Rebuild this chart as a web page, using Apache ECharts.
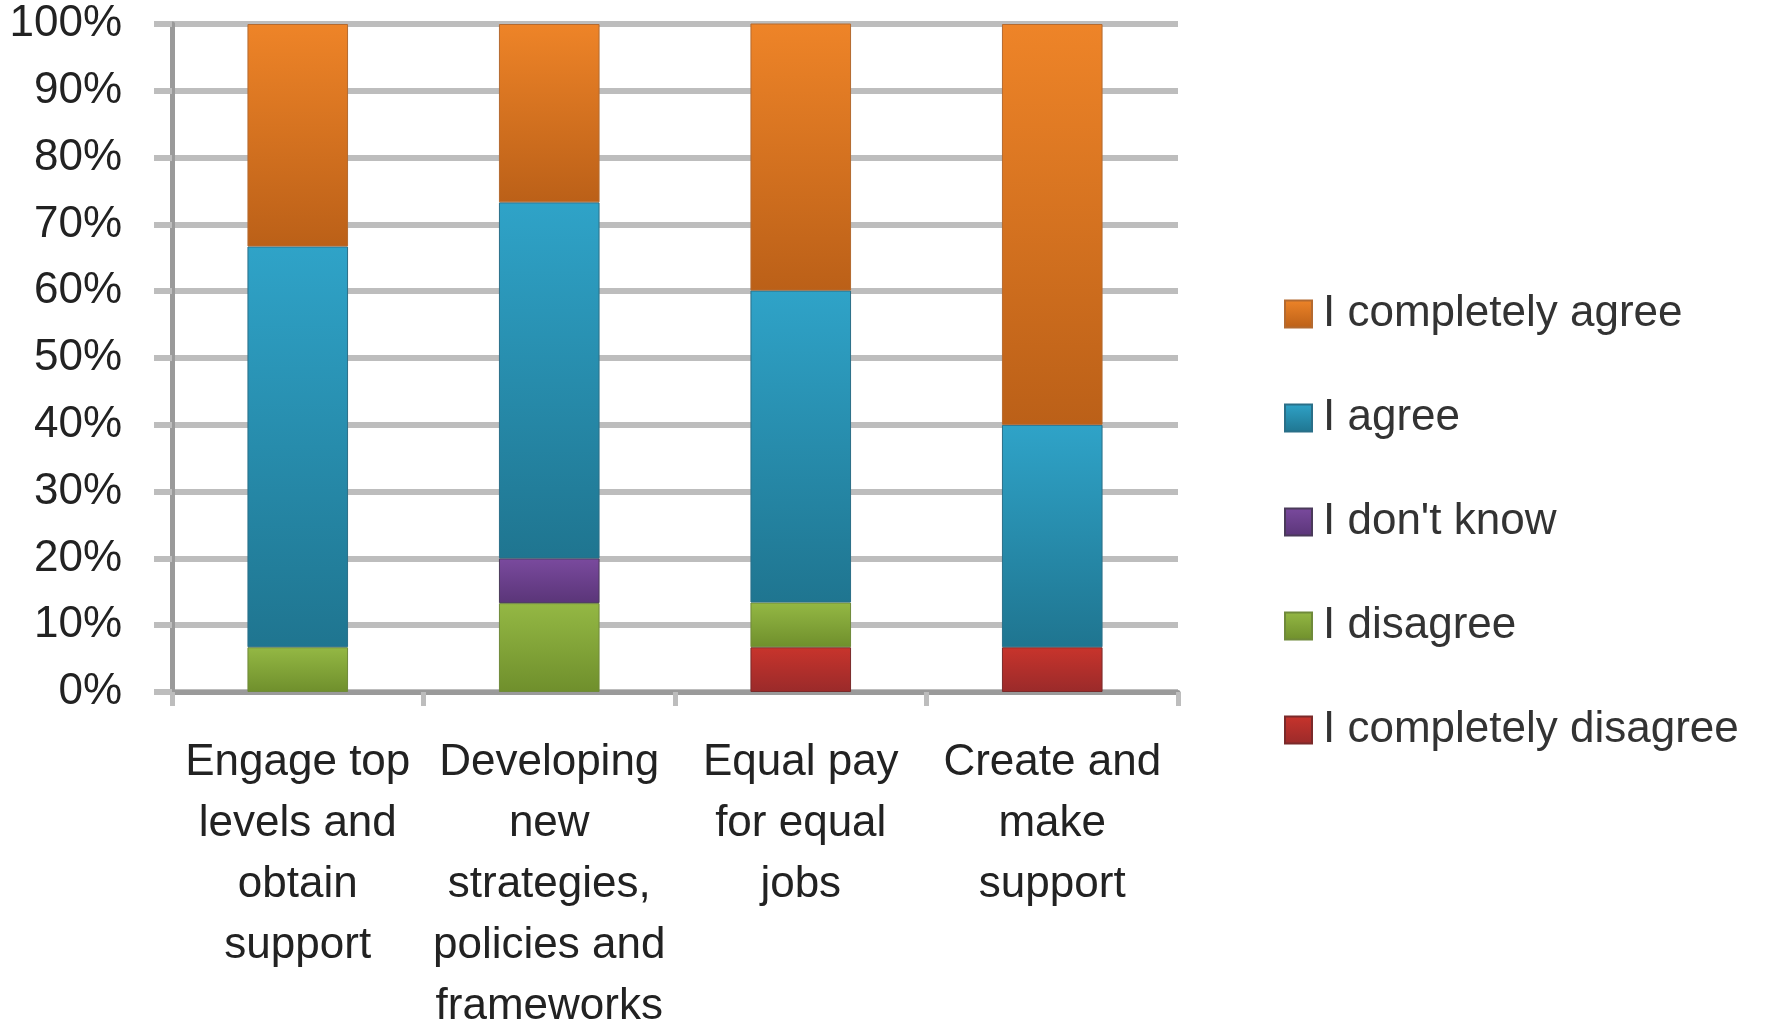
<!DOCTYPE html>
<html>
<head>
<meta charset="utf-8">
<script src="https://cdn.jsdelivr.net/npm/echarts@6/dist/echarts.min.js"></script>
<style>
  html, body { margin: 0; padding: 0; background: #fff; }
  #main { width: 1779px; height: 1027px; }
</style>
</head>
<body>
<div id="main"></div>
<script>
// categories and survey shares (percent)
var categories = [
  'Engage top\nlevels and\nobtain\nsupport',
  'Developing\nnew\nstrategies,\npolicies and\nframeworks',
  'Equal pay\nfor equal\njobs',
  'Create and\nmake\nsupport'
]
var completelyDisagree = [0, 0, 6.7, 6.7]
var disagree = [6.7, 13.3, 6.7, 0]
var dontKnow = [0, 6.7, 0, 0]
var agree = [60, 53.3, 46.7, 33.3]
var completelyAgree = [33.3, 26.7, 40, 60]

var yTicks = [0, 10, 20, 30, 40, 50, 60, 70, 80, 90, 100]

// vertical gradient like the old office bars
function grad (top, bottom) {
  return new echarts.graphic.LinearGradient(0, 0, 0, 1, [
    { offset: 0, color: top },
    { offset: 1, color: bottom }
  ])
}

function bar (name, data, top, bottom, border) {
  return {
    name: name,
    type: 'bar',
    stack: 'all',
    barWidth: '40%',
    // empty segments are left out so no border line shows
    data: data.map(function (v) { return v === 0 ? null : v }),
    itemStyle: {
      color: grad(top, bottom),
      borderColor: border,
      borderWidth: 1
    }
  }
}

var font = 'Liberation Sans'
var myChart = echarts.init(document.getElementById('main'))
myChart.setOption({
  animation: false,
  textStyle: { fontFamily: font },
  grid: { left: 172, right: 601, top: 24, bottom: 335, outerBoundsMode: 'none', containLabel: false },
  legend: {
    orient: 'vertical',
    left: 1279,
    top: 284,
    itemWidth: 27,
    itemHeight: 27,
    itemGap: 54,
    icon: 'rect',
    data: ['I completely agree', 'I agree', "I don't know", 'I disagree', 'I completely disagree'],
    textStyle: { fontSize: 44, color: '#333', lineHeight: 50, padding: [0, 0, 0, 6], fontFamily: font }
  },
  xAxis: {
    type: 'category',
    data: categories,
    axisLine: { lineStyle: { color: '#9a9a9a', width: 5 } },
    axisTick: { show: true, length: 14, lineStyle: { color: '#bdbdbd', width: 5 } },
    axisLabel: { fontSize: 44, lineHeight: 61, color: '#222', margin: 40, interval: 0, fontFamily: font }
  },
  yAxis: {
    type: 'value',
    min: 0,
    max: 100,
    interval: 10,
    axisLine: { show: true, lineStyle: { color: '#9a9a9a', width: 5 } },
    axisTick: { show: true, length: 18, lineStyle: { color: '#bdbdbd', width: 6 } },
    splitLine: { lineStyle: { color: '#bdbdbd', width: 6 } },
    axisLabel: {
      fontSize: 44,
      color: '#222',
      margin: 50,
      fontFamily: font,
      formatter: function (v) { return yTicks.indexOf(v) >= 0 ? v + '%' : '' }
    }
  },
  series: [
    bar('I completely disagree', completelyDisagree, '#c8342c', '#9a2a2a', '#7a2a2a'),
    bar('I disagree', disagree, '#94b844', '#6f8f2c', '#6f8a3a'),
    bar("I don't know", dontKnow, '#7a4a9e', '#5a3578', '#4a3a5a'),
    bar('I agree', agree, '#2fa3c8', '#1f7590', '#2a6f88'),
    bar('I completely agree', completelyAgree, '#ee8428', '#bb6018', '#b46a30')
  ]
})
</script>
</body>
</html>
